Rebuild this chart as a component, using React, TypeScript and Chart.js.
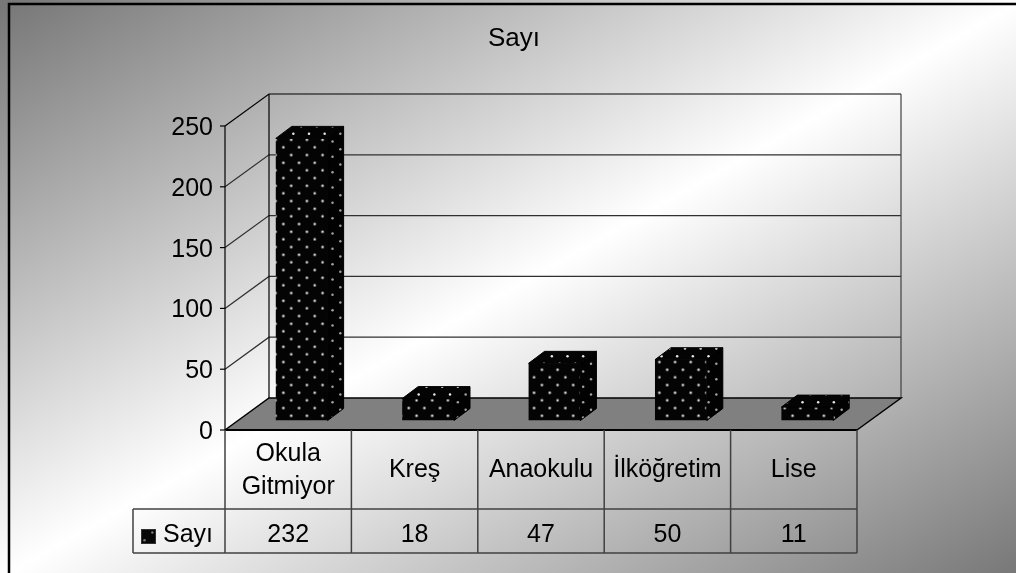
import React, { useEffect, useRef } from 'react';
import { Chart, registerables } from 'chart.js';

Chart.register(...registerables);

// ---- data ----
const chartTitle = 'Sayı';
const seriesName = 'Sayı';
const categories = ['Okula Gitmiyor', 'Kreş', 'Anaokulu', 'İlköğretim', 'Lise'];
const values = [232, 18, 47, 50, 11];
const yTicks = [0, 50, 100, 150, 200, 250];

// ---- layout / style ----
const W = 1016;
const H = 573;
const FONT = '"Liberation Sans", Arial, sans-serif';
const FS = 25;
const PLOT_LEFT = 225;
const PLOT_RIGHT = 857;
const PLOT_TOP = 126;
const PLOT_BOTTOM = 430;
const FLOOR_DX = 44;
const FLOOR_DY = -32;
const BAR_OX = 13.5;
const BAR_OY = -9.5;
const BAR_DX = 16;
const BAR_DY = -12;
const CAT_ROW_H = 79;
const VAL_ROW_H = 44;
const LEGEND_CELL_W = 92;

function makePattern(ctx: CanvasRenderingContext2D) {
  const tw = 47;
  const th = 46;
  const c = document.createElement('canvas');
  c.width = tw;
  c.height = th;
  const g = c.getContext('2d')!;
  g.fillStyle = '#040404';
  g.fillRect(0, 0, tw, th);
  g.fillStyle = '#e8e8e8';
  const sx = tw / 3;
  const sy = th / 3;
  const dot = (x: number, y: number) => {
    g.beginPath();
    g.arc(x, y, 1.25, 0, Math.PI * 2);
    g.fill();
  };
  for (let i = 0; i < 3; i++) {
    for (let j = 0; j < 3; j++) {
      const x = 3.5 + i * sx;
      const y = 3.5 + j * sy;
      dot(x, y);
      dot(x + sx / 2, y + sy / 2);
    }
  }
  return ctx.createPattern(c, 'repeat')!;
}

function poly(ctx: CanvasRenderingContext2D, pts: number[][]) {
  ctx.beginPath();
  ctx.moveTo(pts[0][0], pts[0][1]);
  for (let i = 1; i < pts.length; i++) ctx.lineTo(pts[i][0], pts[i][1]);
  ctx.closePath();
}

function line(ctx: CanvasRenderingContext2D, x1: number, y1: number, x2: number, y2: number) {
  ctx.beginPath();
  ctx.moveTo(x1, y1);
  ctx.lineTo(x2, y2);
  ctx.stroke();
}

function wrapText(ctx: CanvasRenderingContext2D, text: string, maxW: number) {
  const words = text.split(' ');
  const lines: string[] = [];
  let cur = '';
  for (const w of words) {
    const t = cur ? cur + ' ' + w : w;
    if (cur && ctx.measureText(t).width > maxW) {
      lines.push(cur);
      cur = w;
    } else cur = t;
  }
  if (cur) lines.push(cur);
  return lines;
}

export default function App() {
  const ref = useRef<HTMLCanvasElement>(null);

  useEffect(() => {
    document.body.style.margin = '0';
    const canvas = ref.current!;
    const c2d = canvas.getContext('2d')!;
    const pattern = makePattern(c2d);

    const excel3d = {
      id: 'excel3d',
      beforeDraw(chart: any) {
        const ctx: CanvasRenderingContext2D = chart.ctx;
        const ox = 9, oy = 4;
        const gw = W - ox, gh = H - oy;
        const f = (2 * gw * gh) / (gw * gw + gh * gh);
        const grad = ctx.createLinearGradient(ox, oy, ox + gh * f, oy + gw * f);
        grad.addColorStop(0, '#787878');
        grad.addColorStop(0.5, '#ffffff');
        grad.addColorStop(1, '#787878');
        ctx.save();
        ctx.fillStyle = grad;
        ctx.fillRect(0, 0, W, H);
        ctx.restore();
      },
      beforeDatasetsDraw(chart: any) {
        const ctx: CanvasRenderingContext2D = chart.ctx;
        const { chartArea } = chart;
        const ys = chart.scales.y;
        const L = chartArea.left;
        const R = chartArea.right;
        const y0 = ys.getPixelForValue(0);
        const yTop = ys.getPixelForValue(yTicks[yTicks.length - 1]);
        ctx.save();
        // floor
        ctx.fillStyle = '#808080';
        poly(ctx, [[L, y0], [L + FLOOR_DX, y0 + FLOOR_DY], [R + FLOOR_DX, y0 + FLOOR_DY], [R, y0]]);
        ctx.fill();
        // gridlines (back wall + side wall)
        ctx.lineWidth = 1.2;
        for (const v of yTicks) {
          if (v === 0) continue;
          const py = ys.getPixelForValue(v);
          ctx.strokeStyle = v === yTicks[yTicks.length - 1] ? '#000' : '#303030';
          ctx.beginPath();
          ctx.moveTo(L, py);
          ctx.lineTo(L + FLOOR_DX, py + FLOOR_DY);
          ctx.lineTo(R + FLOOR_DX, py + FLOOR_DY);
          ctx.stroke();
        }
        // wall edges
        ctx.strokeStyle = '#000';
        ctx.lineWidth = 1.2;
        line(ctx, L + FLOOR_DX, yTop + FLOOR_DY, L + FLOOR_DX, y0 + FLOOR_DY);
        ctx.strokeStyle = '#404040';
        line(ctx, R + FLOOR_DX, yTop + FLOOR_DY, R + FLOOR_DX, y0 + FLOOR_DY);
        ctx.strokeStyle = '#000';
        line(ctx, L, yTop, L, y0);
        // floor edges
        ctx.lineWidth = 1.5;
        ctx.beginPath();
        ctx.moveTo(L, y0);
        ctx.lineTo(L + FLOOR_DX, y0 + FLOOR_DY);
        ctx.lineTo(R + FLOOR_DX, y0 + FLOOR_DY);
        ctx.lineTo(R, y0);
        ctx.stroke();
        ctx.lineWidth = 2.2;
        line(ctx, L, y0, R, y0);
        // y ticks + labels
        ctx.lineWidth = 1.2;
        ctx.fillStyle = '#000';
        ctx.font = `${FS}px ${FONT}`;
        ctx.textAlign = 'right';
        ctx.textBaseline = 'alphabetic';
        for (const v of yTicks) {
          const py = ys.getPixelForValue(v);
          line(ctx, L - 5, py, L, py);
          ctx.fillText(String(v), L - 12, py + 9);
        }
        ctx.restore();
        // shift bars to mid-depth
        ctx.save();
        ctx.translate(BAR_OX, BAR_OY);
      },
      afterDatasetsDraw(chart: any) {
        const ctx: CanvasRenderingContext2D = chart.ctx;
        ctx.restore();
        const meta = chart.getDatasetMeta(0);
        ctx.save();
        ctx.strokeStyle = '#000';
        ctx.lineWidth = 1;
        ctx.lineJoin = 'round';
        for (const el of meta.data) {
          const p = el.getProps(['x', 'y', 'base', 'width'], true);
          const l = p.x - p.width / 2 + BAR_OX;
          const r = p.x + p.width / 2 + BAR_OX;
          const t = p.y + BAR_OY;
          const b = p.base + BAR_OY;
          // side
          poly(ctx, [[r, t], [r + BAR_DX, t + BAR_DY], [r + BAR_DX, b + BAR_DY], [r, b]]);
          ctx.fillStyle = pattern;
          ctx.fill();
          ctx.fillStyle = 'rgba(0,0,0,0.3)';
          ctx.fill();
          ctx.stroke();
          // top
          poly(ctx, [[l, t], [l + BAR_DX, t + BAR_DY], [r + BAR_DX, t + BAR_DY], [r, t]]);
          ctx.fillStyle = pattern;
          ctx.fill();
          ctx.stroke();
        }
        ctx.restore();
      },
      afterDraw(chart: any) {
        const ctx: CanvasRenderingContext2D = chart.ctx;
        const xs = chart.scales.x;
        const ys = chart.scales.y;
        const { chartArea } = chart;
        const L = chartArea.left;
        const R = chartArea.right;
        const y0 = ys.getPixelForValue(0);
        const labels: string[] = chart.data.labels;
        const data: number[] = chart.data.datasets[0].data;
        const n = labels.length;
        const colW = (R - L) / n;
        const rowMid = y0 + CAT_ROW_H;
        const rowBot = rowMid + VAL_ROW_H;
        const legendLeft = L - LEGEND_CELL_W;
        ctx.save();
        // table grid
        ctx.strokeStyle = '#404040';
        ctx.lineWidth = 1.5;
        for (let i = 0; i <= n; i++) {
          const bx = i < n ? xs.getPixelForValue(i) - colW / 2 : xs.getPixelForValue(n - 1) + colW / 2;
          line(ctx, bx, y0, bx, rowBot);
        }
        line(ctx, legendLeft, rowMid, R, rowMid);
        line(ctx, legendLeft, rowBot, R, rowBot);
        line(ctx, legendLeft, rowMid, legendLeft, rowBot);
        // texts
        ctx.fillStyle = '#000';
        ctx.font = `${FS}px ${FONT}`;
        ctx.textAlign = 'center';
        ctx.textBaseline = 'alphabetic';
        const lh = 33;
        const centerY = y0 + 38;
        for (let i = 0; i < n; i++) {
          const cx = xs.getPixelForValue(i);
          const lines = wrapText(ctx, labels[i], colW - 8);
          const first = centerY - ((lines.length - 1) * lh) / 2 + 9;
          lines.forEach((ln, k) => ctx.fillText(ln, cx, first + k * lh));
          ctx.fillText(String(data[i]), cx, rowBot - 11);
        }
        // legend
        ctx.fillStyle = '#0a0a0a';
        ctx.fillRect(legendLeft + 8, rowMid + 20, 15, 15);
        ctx.fillStyle = pattern;
        ctx.globalAlpha = 0.5;
        ctx.fillRect(legendLeft + 8, rowMid + 20, 15, 15);
        ctx.globalAlpha = 1;
        ctx.strokeStyle = '#333';
        ctx.lineWidth = 1;
        ctx.strokeRect(legendLeft + 8.5, rowMid + 20.5, 14, 14);
        ctx.fillStyle = '#000';
        ctx.textAlign = 'left';
        ctx.fillText(chart.data.datasets[0].label, legendLeft + 30, rowBot - 11);
        // title
        ctx.textAlign = 'center';
        ctx.font = `26px ${FONT}`;
        ctx.fillText(chartTitle, 514, 46);
        // outer border
        ctx.strokeStyle = '#000';
        ctx.lineWidth = 2.5;
        ctx.strokeRect(9, 4, W + 20, H + 20);
        ctx.restore();
      },
    };

    const chart = new Chart(canvas, {
      type: 'bar',
      data: {
        labels: categories,
        datasets: [
          {
            label: seriesName,
            data: values,
            backgroundColor: pattern,
            borderColor: '#000',
            borderWidth: 0,
            barPercentage: 0.41,
            categoryPercentage: 1,
          },
        ],
      },
      options: {
        responsive: false,
        animation: false,
        devicePixelRatio: 1,
        events: [],
        layout: {
          padding: {
            left: PLOT_LEFT,
            right: W - PLOT_RIGHT,
            top: PLOT_TOP,
            bottom: H - PLOT_BOTTOM,
          },
        },
        plugins: {
          legend: { display: false },
          title: { display: false },
          tooltip: { enabled: false },
        },
        scales: {
          x: { display: false, offset: true, grid: { display: false } },
          y: { display: false, min: 0, max: 250 },
        },
      },
      plugins: [excel3d],
    } as any);

    return () => chart.destroy();
  }, []);

  return (
    <div style={{ width: W, height: H }}>
      <canvas ref={ref} width={W} height={H} style={{ display: 'block', width: W, height: H }} />
    </div>
  );
}
